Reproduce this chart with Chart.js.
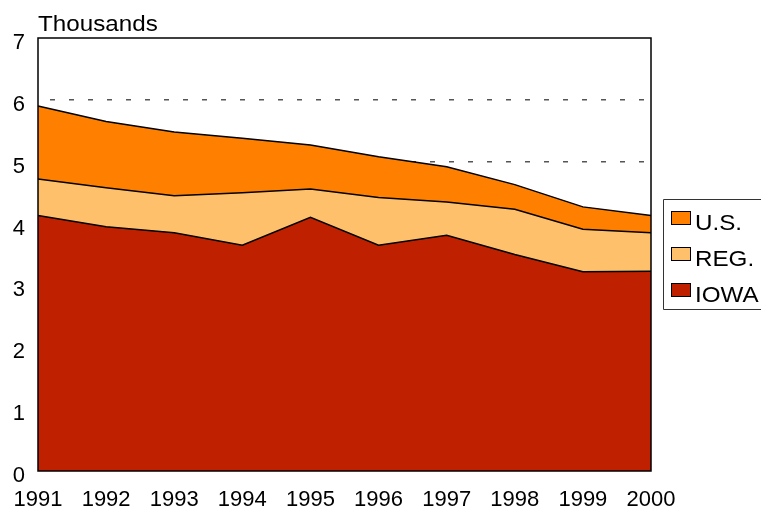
<!DOCTYPE html>
<html>
<head>
<meta charset="utf-8">
<script src="https://cdn.jsdelivr.net/npm/chart.js@4/dist/chart.umd.min.js"></script>
<style>
html,body{margin:0;padding:0;background:#fff;}
#wrap{width:761px;height:510px;position:relative;}
</style>
</head>
<body>
<div id="wrap"><canvas id="c" width="761" height="510"></canvas></div>
<script>
const years = ['1991','1992','1993','1994','1995','1996','1997','1998','1999','2000'];
const usValues   = [5.90, 5.65, 5.48, 5.38, 5.27, 5.08, 4.92, 4.63, 4.27, 4.13];
const regValues  = [4.72, 4.58, 4.45, 4.50, 4.56, 4.42, 4.35, 4.23, 3.91, 3.85];
const iowaValues = [4.13, 3.95, 3.85, 3.65, 4.10, 3.65, 3.81, 3.50, 3.22, 3.23];
const yTicks = [0,1,2,3,4,5,6,7];
const yTitle = 'Thousands';

const FONT = '"Liberation Sans", Arial, sans-serif';
const colors = {us:'#FF8000', reg:'#FFC06C', iowa:'#BF2000'};

function wideText(ctx, text, x, y, sx){
  ctx.save();
  ctx.translate(x, y);
  ctx.scale(sx, 1);
  ctx.fillText(text, 0, 0);
  ctx.restore();
}

const framePlugin = {
  id:'frame',
  afterDatasetsDraw(chart){
    const {ctx, chartArea:a} = chart;
    ctx.save();
    ctx.strokeStyle = '#000';
    ctx.lineWidth = 1.5;
    ctx.strokeRect(a.left, a.top, a.right - a.left, a.bottom - a.top);
    ctx.restore();
  },
  afterDraw(chart){
    const {ctx, chartArea:a} = chart;
    ctx.save();
    ctx.fillStyle = '#000';
    ctx.font = '22px ' + FONT;
    ctx.textBaseline = 'alphabetic';
    ctx.textAlign = 'left';
    wideText(ctx, yTitle, a.left, 30.5, 1.1);
    // legend
    const lx = 663.5, ly = 199.5;
    ctx.strokeStyle = '#333';
    ctx.lineWidth = 1;
    ctx.beginPath();
    ctx.moveTo(775, ly); ctx.lineTo(lx, ly); ctx.lineTo(lx, ly + 110); ctx.lineTo(775, ly + 110);
    ctx.stroke();
    const items = [['U.S.', colors.us], ['REG.', colors.reg], ['IOWA', colors.iowa]];
    items.forEach((it, i) => {
      const sy = 211 + i * 36;
      ctx.fillStyle = it[1];
      ctx.fillRect(671, sy, 20, 14);
      ctx.strokeStyle = '#000';
      ctx.lineWidth = 1;
      ctx.strokeRect(671.5, sy + 0.5, 19, 13);
      ctx.fillStyle = '#000';
      ctx.font = '22px ' + FONT;
      wideText(ctx, it[0], 695, sy + 18.5, 1.1);
    });
    ctx.restore();
  }
};

new Chart(document.getElementById('c'), {
  type:'line',
  data:{
    labels: years,
    datasets:[
      {label:'IOWA', data: iowaValues, backgroundColor: colors.iowa, borderColor:'#000', borderWidth:1.5, fill:'origin', pointRadius:0, tension:0},
      {label:'REG.', data: regValues, backgroundColor: colors.reg, borderColor:'#000', borderWidth:1.5, fill:'origin', pointRadius:0, tension:0},
      {label:'U.S.', data: usValues, backgroundColor: colors.us, borderColor:'#000', borderWidth:1.5, fill:'origin', pointRadius:0, tension:0}
    ]
  },
  options:{
    responsive:false,
    animation:false,
    devicePixelRatio:1,
    layout:{padding:{top:38, right:110, left:0, bottom:0}},
    plugins:{legend:{display:false}, tooltip:{enabled:false}},
    elements:{line:{borderJoinStyle:'miter'}},
    scales:{
      x:{
        type:'category',
        offset:false,
        grid:{display:false},
        border:{display:false},
        ticks:{color:'#000', font:{family:FONT, size:22}, maxRotation:0, autoSkip:false, padding:8},
        afterFit(s){ s.height = 39; }
      },
      y:{
        min:0, max:7,
        afterBuildTicks(s){ s.ticks = yTicks.map(v => ({value:v})); },
        grid:{
          drawTicks:false,
          color:(c) => (c.tick && (c.tick.value === 5 || c.tick.value === 6)) ? '#555' : 'rgba(0,0,0,0)',
          lineWidth:1.5
        },
        border:{display:false, dash:[5,14], dashOffset:7},
        ticks:{color:'#000', font:{family:FONT, size:22}, padding:13, labelOffset:5},
        afterFit(s){ s.width = 38; }
      }
    }
  },
  plugins:[framePlugin]
});
</script>
</body>
</html>
